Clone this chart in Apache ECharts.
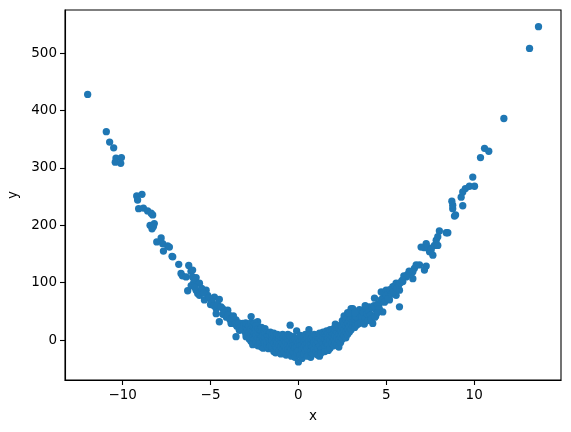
<!DOCTYPE html>
<html>
<head>
<meta charset="utf-8">
<script src="https://cdn.jsdelivr.net/npm/echarts@6/dist/echarts.min.js"></script>
<style>html,body{margin:0;padding:0;background:#fff}#c{width:571px;height:432px}</style>
</head>
<body>
<div id="c"></div>
<script>
const xTicks = [-10, -5, 0, 5, 10];
const yTicks = [0, 100, 200, 300, 400, 500];
const xName = 'x';
const yName = 'y';

const leftPoints = [
[-11.99,428],[-10.93,363],[-10.74,345],[-10.51,335],[-10.38,317],[-10.07,318],[-10.42,310],[-10.11,308],
[-9.20,251],[-8.90,254],[-9.15,244],[-9.09,229],[-8.82,230],[-8.58,225],[-8.29,218],[-8.38,221],[-8.44,200],[-8.20,203],[-8.33,194],[-8.25,198],
[-7.81,178],[-8.06,171],[-7.72,168],[-7.44,164],[-7.68,155],[-7.34,162],[-7.15,145],[-7.19,146],[-6.81,132],[-6.24,130],[-6.68,116],[-6.11,120],
[-6.02,122],[-6.6,112],[-6.39,110],[-6.02,110],[-5.82,109],[-5.96,100],[-5.63,99],[-6.30,86],[-5.82,87],[-5.73,81],[-5.25,87],[-5.63,78],[-5.16,78],
[-5.35,70],[-4.97,70],[-4.78,75],[-4.50,71],[-4.68,55],[-4.31,55],[-4.02,52],[-4.68,46],[-4.50,32],[-3.93,43],[-3.55,35],[-3.83,29],[-3.17,29],
[-2.69,41],[-2.32,32],[-3.36,17],[-2.79,17],[-2.22,14],[-1.84,14],[-3.55,6],[-2.98,6],
[-6.1,95],[-5.9,92],[-5.5,90],[-5.4,82],[-5.1,74],[-5.0,62],[-4.9,66],[-4.8,60],[-4.6,62],[-4.4,58],[-4.3,45],[-4.2,48],[-4.1,40],[-4.0,44],
[-3.9,36],[-3.8,38],[-3.7,42],[-3.6,28],[-3.5,24],[-3.4,30],[-3.3,22],[-3.2,18],[-3.1,26],[-3.0,20]
];

const centerPoints = [
[-3.0,22],[-3.0,12],[-3.0,30],[-2.9,18],[-2.9,28],[-2.9,8],[-2.8,25],[-2.8,14],[-2.8,2],
[-2.7,20],[-2.7,30],[-2.7,10],[-2.7,-2],[-2.6,15],[-2.6,24],[-2.6,-8],[-2.6,5],
[-2.5,12],[-2.5,22],[-2.5,2],[-2.5,30],[-2.4,8],[-2.4,18],[-2.4,-4],[-2.4,25],
[-2.3,14],[-2.3,3],[-2.3,20],[-2.3,-10],[-2.2,10],[-2.2,0],[-2.2,18],[-2.2,-6],
[-2.1,6],[-2.1,15],[-2.1,-12],[-2.1,22],[-2.0,12],[-2.0,2],[-2.0,-14],[-2.0,8],
[-1.9,4],[-1.9,14],[-1.9,-5],[-1.9,20],[-1.8,8],[-1.8,-8],[-1.8,12],[-1.8,-2],
[-1.7,2],[-1.7,10],[-1.7,-15],[-1.7,6],[-1.6,-4],[-1.6,8],[-1.6,14],[-1.6,-10],
[-1.5,5],[-1.5,-12],[-1.5,0],[-1.5,10],[-1.4,-6],[-1.4,4],[-1.4,-20],[-1.4,12],
[-1.3,0],[-1.3,-10],[-1.3,8],[-1.3,-22],[-1.2,-4],[-1.2,6],[-1.2,-14],[-1.2,10],
[-1.1,2],[-1.1,-8],[-1.1,-18],[-1.1,8],[-1.0,-2],[-1.0,6],[-1.0,-12],[-1.0,-24],
[-0.9,4],[-0.9,-6],[-0.9,-16],[-0.9,10],[-0.8,-10],[-0.8,0],[-0.8,8],[-0.8,-20],
[-0.7,-4],[-0.7,6],[-0.7,-14],[-0.7,-26],[-0.6,-8],[-0.6,2],[-0.6,-18],[-0.6,10],
[-0.5,0],[-0.5,-12],[-0.5,-22],[-0.5,8],[-0.47,26],[-0.4,-6],[-0.4,4],[-0.4,-16],[-0.4,-28],
[-0.3,-2],[-0.3,-10],[-0.3,6],[-0.3,-20],[-0.2,-8],[-0.2,2],[-0.2,-14],[-0.2,-30],
[-0.1,-4],[-0.1,16],[-0.1,-12],[-0.1,-22],[0.0,-6],[0.0,4],[0.0,-18],[0.0,-38],
[0.1,-2],[0.1,-10],[0.1,8],[0.1,-26],[0.2,-8],[0.2,2],[0.2,-16],[0.2,-32],
[0.3,-4],[0.3,6],[0.3,-12],[0.3,-24],[0.4,0],[0.4,-8],[0.4,-18],[0.4,10],
[0.5,-6],[0.5,4],[0.5,-14],[0.5,-28],[0.6,-2],[0.6,18],[0.6,-10],[0.6,8],
[0.7,-8],[0.7,2],[0.7,-20],[0.7,-30],[0.8,0],[0.8,6],[0.8,-12],[0.8,-24],
[0.9,-4],[0.9,10],[0.9,-16],[1.0,2],[1.0,-8],[1.0,-20],[1.0,8],
[1.1,-2],[1.1,6],[1.1,-14],[1.1,-26],[1.2,4],[1.2,-10],[1.2,12],[1.2,-28],
[1.3,0],[1.3,8],[1.3,-16],[1.3,-22],[1.4,6],[1.4,-6],[1.4,14],
[1.5,2],[1.5,-12],[1.5,10],[1.5,-20],[1.6,8],[1.6,-4],[1.6,16],
[1.7,4],[1.7,12],[1.7,-8],[1.7,-18],[1.8,10],[1.8,0],[1.8,18],[1.8,-14],
[1.9,6],[1.9,14],[1.9,-6],[2.0,12],[2.0,2],[2.0,20],[2.0,-10],
[2.1,8],[2.1,18],[2.1,-4],[2.1,28],[2.2,14],[2.2,4],[2.2,22],[2.2,-8],
[2.3,10],[2.3,20],[2.3,0],[2.3,-12],[2.4,16],[2.4,6],[2.4,26],[2.4,-4],
[2.5,12],[2.5,22],[2.5,2],[2.5,34],[2.6,18],[2.6,8],[2.6,28],[2.6,42],
[2.7,14],[2.7,24],[2.7,4],[2.7,36],[2.8,20],[2.8,30],[2.8,10],[2.8,48],
[2.9,24],[2.9,34],[2.9,14],[2.9,46],[3.0,28],[3.0,18],[3.0,38],[3.0,55],
[3.1,24],[3.1,32],[3.1,40],[3.2,30],[3.2,22],[3.2,44],[3.2,36],
[3.3,34],[3.3,26],[3.3,41],[3.3,48],[3.4,28],[3.4,38],[3.4,50]
];

const rightPoints = [
[3.09,55],[3.47,53],[3.66,52],[4.42,52],[4.80,49],[3.28,41],[4.04,41],[3.66,32],[4.23,29],[2.90,47],[4.04,58],[4.61,64],[5.75,58],
[4.33,73],[4.80,73],[5.18,70],[4.71,84],[5.18,81],[5.56,78],[4.99,87],[5.75,87],[5.37,93],[5.56,99],[5.94,102],[6.13,110],[6.51,107],
[6.41,116],[6.60,125],[6.89,131],[7.27,129],[7.46,154],[7.27,165],[7.55,160],[7.74,165],[6.51,119],[7.17,122],[6.70,131],
[3.5,45],[3.6,40],[3.7,48],[3.8,38],[3.9,46],[4.0,50],[4.1,44],[4.2,56],[4.3,60],[4.4,42],[4.5,62],[4.6,55],[4.7,70],[4.9,66],
[5.0,78],[5.1,72],[5.2,88],[5.3,80],[5.4,84],[5.5,95],[5.6,90],[5.7,96],[5.8,100],[5.9,104],[6.0,112],[6.2,114],[6.3,120],
[3.55,30],[3.75,28],[3.95,34],[4.15,36],[4.35,40],[3.2,48],[3.8,60],[4.5,48],
[7.17,161],[7.27,168],[7.55,157],[7.65,148],[6.98,162],[7.84,174],[7.93,165],[8.02,190],[8.50,187],[8.41,187],[7.93,180],
[8.88,216],[8.94,218],[8.78,229],[8.78,235],[9.35,234],[8.73,242],[9.26,249],[9.35,258],[9.50,264],[9.73,268],[10.02,268],
[9.92,284],[10.36,318],[10.59,334],[10.83,329],[11.69,386],[13.15,508],[13.66,546]
];

const points = leftPoints.concat(centerPoints, rightPoints);

const chart = echarts.init(document.getElementById('c'), null, {renderer: 'canvas'});
const fmt = v => (v < 0 ? '\u2212' + Math.abs(v) : String(v));
const font = {fontFamily: 'DejaVu Sans', fontSize: 13.5, color: '#000'};
chart.setOption({
  animation: false,
  grid: {left: 65, right: 10, top: 10, bottom: 52, containLabel: false, outerBoundsMode: 'none',
         show: true, borderColor: '#000', borderWidth: 1.1, backgroundColor: 'transparent'},
  xAxis: {
    type: 'value', min: -13.28, max: 14.94,
    name: xName, nameLocation: 'middle', nameGap: 29,
    nameTextStyle: font,
    axisLine: {show: true, onZero: false, lineStyle: {color: '#000', width: 1.1}},
    axisTick: {show: true, inside: false, length: 5, customValues: xTicks, lineStyle: {color: '#000', width: 1.1}},
    axisLabel: {customValues: xTicks, formatter: fmt, margin: 8, ...font},
    splitLine: {show: false}
  },
  yAxis: {
    type: 'value', min: -69.5, max: 575,
    name: yName, nameLocation: 'middle', nameGap: 42,
    nameTextStyle: font,
    axisLine: {show: true, onZero: false, lineStyle: {color: '#000', width: 1.1}},
    axisTick: {show: true, inside: false, length: 5, customValues: yTicks, lineStyle: {color: '#000', width: 1.1}},
    axisLabel: {customValues: yTicks, formatter: fmt, margin: 8, ...font},
    splitLine: {show: false}
  },
  series: [{
    type: 'scatter',
    data: points,
    symbol: 'circle',
    symbolSize: 7.3,
    itemStyle: {color: '#1f77b4', opacity: 1}
  }]
});
</script>
</body>
</html>
